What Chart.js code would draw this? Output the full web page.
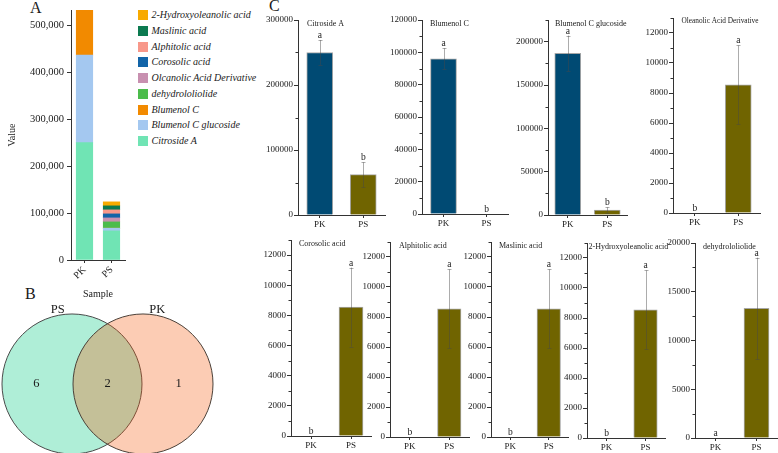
<!DOCTYPE html>
<html><head><meta charset="utf-8">
<script src="https://cdn.jsdelivr.net/npm/chart.js@4.4.1/dist/chart.umd.min.js"></script>
<style>
html,body{margin:0;padding:0;background:#fff}
body{width:778px;height:453px;position:relative;overflow:hidden;font-family:'Liberation Serif','Times New Roman',serif;color:#1a1a1a}
canvas{position:absolute}
.plabel{position:absolute;font-size:16px;line-height:16px}
#legendA{position:absolute;left:138px;top:0}
.li{position:absolute;left:0;height:12px;white-space:nowrap;font-style:italic;font-size:10px;line-height:12px}
.li .sw{position:absolute;left:0;top:1px;width:10px;height:10px}
.li .tx{position:absolute;left:13.5px;top:0}
</style></head><body>
<div class="plabel" style="left:30px;top:0px">A</div>
<div class="plabel" style="left:25px;top:286px">B</div>
<div class="plabel" style="left:269px;top:-2px">C</div>
<div id="legendA"></div>
<script>
// ---------- DATA ----------
const samples = ['PK', 'PS'];

// Panel A (stacked)
const compounds = ['Citroside A', 'Blumenol C glucoside', 'Blumenol C', 'dehydrololiolide',
  'Olcanolic Acid Derivative', 'Corosolic acid', 'Alphitolic acid', 'Maslinic acid', '2-Hydroxyoleanolic acid'];
const stackPK = [250000, 186500, 96000, 0, 0, 0, 0, 0, 0];
const stackPS = [62000, 5800, 0, 13300, 8550, 8550, 8550, 8550, 8550];
const stackTicks = [0, 100000, 200000, 300000, 400000, 500000];
const stackMax = 532500;

// Panel B (Venn)
const vennSets = ['PS', 'PK'];
const vennCounts = [6, 2, 1]; // PS only, shared, PK only

// Panel C (bar + error)
const panelTitles = ['Citroside A', 'Blumenol C', 'Blumenol C glucoside', 'Oleanolic Acid Derivative',
  'Corosolic acid', 'Alphitolic acid', 'Maslinic acid', '2-Hydroxyoleanolic acid', 'dehydrololiolide'];
const meanPK = [250000, 96000, 186500, 0, 0, 0, 0, 0, 0];
const meanPS = [62000, 0, 5800, 8550, 8550, 8550, 8550, 8550, 13300];
const errPK = [19000, 6500, 20500, 0, 0, 0, 0, 0, 0];
const errPS = [19000, 0, 3000, 2620, 2620, 2620, 2620, 2620, 5200];
const letterPK = ['a', 'a', 'a', 'b', 'b', 'b', 'b', 'b', 'a'];
const letterPS = ['b', 'b', 'b', 'a', 'a', 'a', 'a', 'a', 'a'];
const ticks12k = [0, 2000, 4000, 6000, 8000, 10000, 12000];
const panelTicks = [
  [0, 100000, 200000, 300000],
  [0, 20000, 40000, 60000, 80000, 100000, 120000],
  [0, 50000, 100000, 150000, 200000],
  ticks12k, ticks12k, ticks12k, ticks12k, ticks12k,
  [0, 5000, 10000, 15000, 20000]
];
const panelMax = [300000, 120000, 225000, 13000, 13000, 13000, 13000, 13000, 20000];

// ---------- STYLE / LAYOUT ----------
const FONT = "'Liberation Serif','Times New Roman',serif";
const stackColors = ['#70e4b4', '#a4c8f0', '#f28a00', '#4cbc4c', '#c890b0', '#1264a8', '#f8988a', '#0c7a50', '#f8aa00'];
const colPK = '#004a73', colPS = '#706400';
const panelLayout = [
  {ax: 298, top: 20, zero: 215, w: 87, bar: 26, dx: 9, fs: 8},
  {ax: 422, top: 20, zero: 214, w: 86, bar: 26, dx: 8, fs: 8},
  {ax: 548, top: 20, zero: 215, w: 79, bar: 26, dx: 7, fs: 8},
  {ax: 673, top: 18, zero: 213, w: 87, bar: 26, dx: 8.5, fs: 7.3},
  {ax: 291, top: 240, zero: 436, w: 80, bar: 24, dx: 8, fs: 8},
  {ax: 390, top: 242, zero: 437, w: 79, bar: 23.5, dx: 9, fs: 8},
  {ax: 491, top: 242, zero: 437, w: 77, bar: 23.5, dx: 8, fs: 8},
  {ax: 587, top: 243, zero: 438, w: 78, bar: 23.5, dx: 1.5, fs: 8},
  {ax: 695, top: 243, zero: 438, w: 82, bar: 25, dx: 8, fs: 8}
];

Chart.defaults.font.family = FONT;
Chart.defaults.color = '#1a1a1a';
Chart.defaults.animation = false;
Chart.defaults.plugins.legend.display = false;
Chart.defaults.plugins.tooltip.enabled = false;

function mk(left, top, w, h) {
  const c = document.createElement('canvas');
  c.width = w; c.height = h;
  c.style.left = left + 'px'; c.style.top = top + 'px';
  c.style.width = w + 'px'; c.style.height = h + 'px';
  document.body.appendChild(c);
  return c;
}

// ---------- PLUGINS ----------
const minorTicks = {
  id: 'minorTicks',
  afterDraw(chart, args, opts) {
    if (!opts || !opts.values) return;
    const s = chart.scales.y, ctx = chart.ctx;
    ctx.save(); ctx.strokeStyle = '#333'; ctx.lineWidth = 1;
    opts.values.forEach(v => {
      const y = Math.round(s.getPixelForValue(v)) + 0.5;
      ctx.beginPath(); ctx.moveTo(s.right - 2.5, y); ctx.lineTo(s.right, y); ctx.stroke();
    });
    ctx.restore();
  }
};
const errorBars = {
  id: 'errorBars',
  afterDatasetsDraw(chart) {
    const ctx = chart.ctx, ys = chart.scales.y;
    chart.data.datasets.forEach((ds, di) => {
      const meta = chart.getDatasetMeta(di);
      meta.data.forEach((bar, i) => {
        const v = ds.data[i], e = ds.errors[i], x = Math.round(bar.x) + 0.5;
        const yt = ys.getPixelForValue(v + e), yb = ys.getPixelForValue(Math.max(0, v - e));
        ctx.save();
        if (e > 0) {
          ctx.strokeStyle = 'rgba(70,70,70,0.45)'; ctx.lineWidth = 1;
          ctx.beginPath();
          ctx.moveTo(x, yt); ctx.lineTo(x, yb);
          ctx.moveTo(x - 2, Math.round(yt) + 0.5); ctx.lineTo(x + 2, Math.round(yt) + 0.5);
          ctx.moveTo(x - 2, Math.round(yb) + 0.5); ctx.lineTo(x + 2, Math.round(yb) + 0.5);
          ctx.stroke();
        }
        ctx.fillStyle = '#1a1a1a';
        ctx.font = '9.5px ' + FONT;
        ctx.textAlign = 'center'; ctx.textBaseline = 'alphabetic';
        ctx.fillText(ds.letters[i], bar.x, yt - 2);
        ctx.restore();
      });
    });
  }
};
const panelTitle = {
  id: 'panelTitle',
  afterDraw(chart, args, opts) {
    const ctx = chart.ctx, a = chart.chartArea;
    ctx.save(); ctx.fillStyle = '#1a1a1a'; ctx.font = opts.size + 'px ' + FONT;
    ctx.textAlign = 'left'; ctx.textBaseline = 'middle';
    ctx.fillText(opts.text, a.left + opts.dx, a.top + 3.5);
    ctx.restore();
  }
};
const vennText = {
  id: 'vennText',
  afterDatasetsDraw(chart, args, opts) {
    const ctx = chart.ctx, xs = chart.scales.x, ys = chart.scales.y;
    ctx.save(); ctx.fillStyle = '#1a1a1a'; ctx.font = '12.5px ' + FONT;
    ctx.textAlign = 'center'; ctx.textBaseline = 'middle';
    opts.counts.forEach((c, i) => ctx.fillText(String(c), xs.getPixelForValue(opts.countX[i]), ys.getPixelForValue(0)));
    opts.sets.forEach((s, i) => ctx.fillText(s, xs.getPixelForValue(opts.setX[i]), ys.getPixelForValue(1.05)));
    ctx.restore();
  }
};

// ---------- PANEL A ----------
const cA = mk(0, 0, 129, 300);
const chartA = new Chart(cA, {
  type: 'bar',
  data: {
    labels: samples,
    datasets: compounds.map((n, i) => ({
      label: n, data: [stackPK[i], stackPS[i]], backgroundColor: stackColors[i], borderWidth: 0, barThickness: 16.5
    }))
  },
  options: {
    responsive: false,
    layout: {padding: {top: 10, right: 4, left: 0, bottom: 0}},
    scales: {
      x: {
        stacked: true, offset: true,
        grid: {drawOnChartArea: false, offset: false, tickLength: 3, color: '#333'},
        border: {color: '#333'},
        ticks: {minRotation: 45, maxRotation: 45, font: {size: 10}, padding: 1},
        title: {display: true, text: 'Sample', font: {size: 10}, padding: {top: 0, bottom: 0}},
        afterFit: s => { s.height = 40; }
      },
      y: {
        stacked: true, min: 0, max: stackMax,
        afterBuildTicks: s => { s.ticks = stackTicks.map(v => ({value: v})); },
        grid: {drawOnChartArea: false, tickLength: 4, color: '#333'},
        border: {color: '#333'},
        ticks: {font: {size: 10.5}, padding: 3, callback: v => Number(v).toLocaleString('en-US')},
        title: {display: true, text: 'Value', font: {size: 10}, padding: {top: 6, bottom: 0}},
        afterFit: s => { s.width = 71; }
      }
    }
  }
});
// HTML legend (reverse stacking order)
const leg = document.getElementById('legendA');
chartA.data.datasets.slice().reverse().forEach((ds, k) => {
  const row = document.createElement('div');
  row.className = 'li';
  row.style.top = (9.3 + 15.7 * k) + 'px';
  row.innerHTML = '<span class="sw" style="background:' + ds.backgroundColor + '"></span><span class="tx"></span>';
  row.querySelector('.tx').textContent = ds.label;
  leg.appendChild(row);
});

// ---------- PANEL B ----------
const cB = mk(0, 285, 215, 168);
new Chart(cB, {
  type: 'scatter',
  data: {
    datasets: [
      {label: vennSets[1], data: [{x: 0.5, y: 0}], pointRadius: 70, pointHoverRadius: 70,
        backgroundColor: 'rgba(245,85,5,0.3)', borderColor: '#4a4038', borderWidth: 1, clip: false},
      {label: vennSets[0], data: [{x: -0.5, y: 0}], pointRadius: 70, pointHoverRadius: 70,
        backgroundColor: '#afeed7', borderColor: '#4a4a4a', borderWidth: 1, clip: false}
    ]
  },
  options: {
    responsive: false,
    layout: {padding: 0, autoPadding: false},
    scales: {x: {display: false, min: -1.514, max: 1.514}, y: {display: false, min: -0.972, max: 1.394}},
    plugins: {vennText: {counts: vennCounts, countX: [-1, 0, 1], sets: vennSets, setX: [-0.7, 0.7]}}
  },
  plugins: [vennText]
});

// ---------- PANEL C ----------
panelTitles.forEach((t, i) => {
  const L = panelLayout[i];
  const Wy = 44, padTop = 10, Hx = 22;
  const plotH = L.zero - L.top;
  const c = mk(L.ax - Wy, L.top - padTop, Wy + L.w + 4, padTop + plotH + Hx);
  const tk = panelTicks[i];
  const minor = [];
  for (let k = 0; k < tk.length; k++) {
    const step = tk[1] - tk[0];
    const m = tk[k] + step / 2;
    if (m <= panelMax[i]) minor.push(m);
  }
  new Chart(c, {
    type: 'bar',
    data: {
      labels: samples,
      datasets: [{
        data: [meanPK[i], meanPS[i]],
        errors: [errPK[i], errPS[i]],
        letters: [letterPK[i], letterPS[i]],
        backgroundColor: ctx => (ctx.raw > 0 ? [colPK, colPS][ctx.dataIndex] : 'rgba(0,0,0,0)'),
        borderColor: 'rgba(60,60,60,0.45)',
        borderWidth: ctx => (ctx.raw > 0 ? 1 : 0),
        barThickness: L.bar
      }]
    },
    options: {
      responsive: false,
      layout: {padding: {top: padTop, right: 4, bottom: 0, left: 0}},
      scales: {
        x: {
          offset: true,
          grid: {drawOnChartArea: false, offset: false, tickLength: 3, color: '#333'},
          border: {color: '#333'},
          ticks: {font: {size: 9}, padding: 1},
          afterFit: s => { s.height = Hx; }
        },
        y: {
          min: 0, max: panelMax[i],
          afterBuildTicks: s => { s.ticks = tk.map(v => ({value: v})); },
          grid: {drawOnChartArea: false, tickLength: 4, color: '#333'},
          border: {color: '#333'},
          ticks: {font: {size: 9}, padding: 1, callback: v => String(v)},
          afterFit: s => { s.width = Wy; }
        }
      },
      plugins: {minorTicks: {values: minor}, panelTitle: {text: t, dx: L.dx, size: L.fs}}
    },
    plugins: [errorBars, minorTicks, panelTitle]
  });
});
</script>
</body></html>
